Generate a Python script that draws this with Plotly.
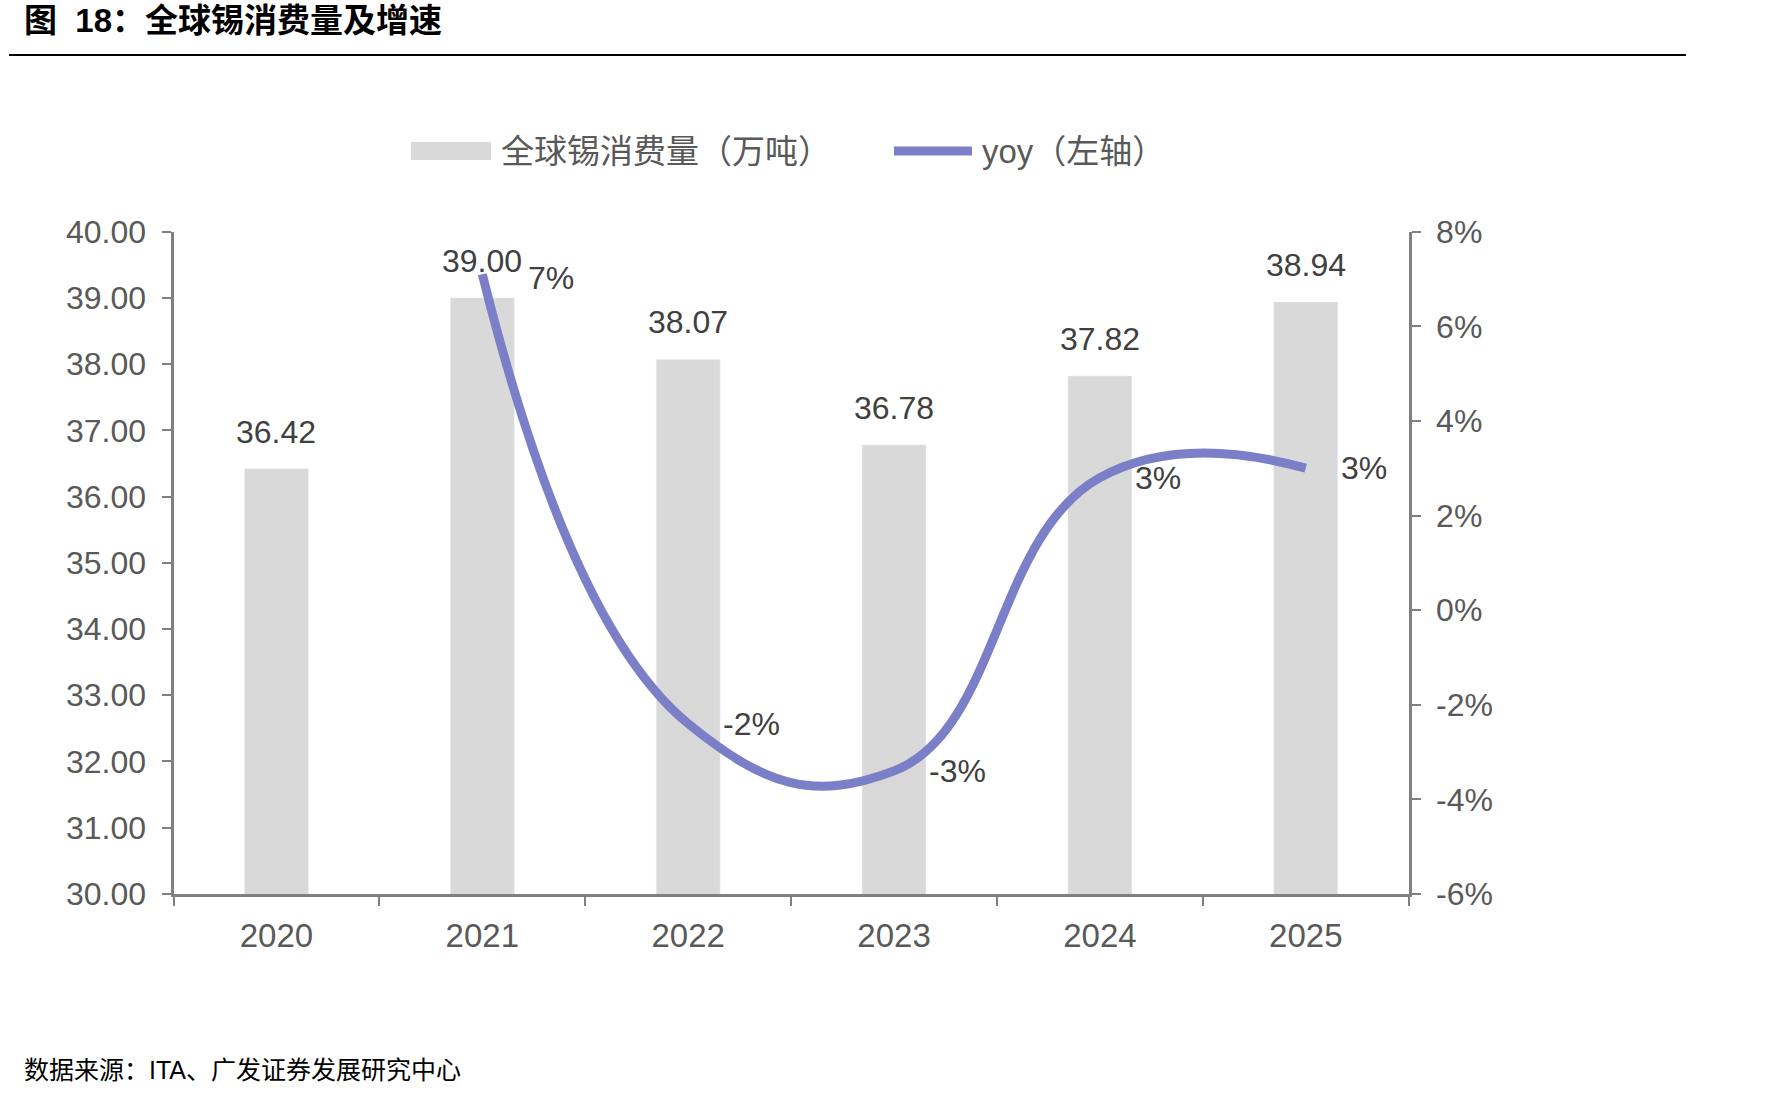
import plotly.graph_objects as go

# ---- data ----
years = ["2020", "2021", "2022", "2023", "2024", "2025"]
consumption = [36.42, 39.00, 38.07, 36.78, 37.82, 38.94]   # 万吨
yoy_years = ["2021", "2022", "2023", "2024", "2025"]
yoy = [0.071, -0.024, -0.034, 0.028, 0.030]
left_ticks = [30, 31, 32, 33, 34, 35, 36, 37, 38, 39, 40]
right_ticks = [-0.06, -0.04, -0.02, 0.0, 0.02, 0.04, 0.06, 0.08]

title_text = "<b>图  18：全球锡消费量及增速</b>"
bar_name = "全球锡消费量（万吨）"
line_name = "yoy（左轴）"
source_text = "数据来源：ITA、广发证券发展研究中心"

W, H = 1790, 1099
FONT = "Liberation Sans, Arial, Noto Sans CJK SC, sans-serif"
BAR_COLOR = "#D9D9D9"
LINE_COLOR = "#7B7FC8"
AXIS_COLOR = "#808080"
TICK_COLOR = "#595959"
LABEL_COLOR = "#404040"

def px(x):
    return x / W

def py(y):
    return 1 - y / H

x_dom = [px(173.5), px(1408.7)]
y_dom = [py(893.9), py(231.7)]

fig = go.Figure()
fig.add_trace(go.Bar(
    x=years, y=consumption, name=bar_name, marker_color=BAR_COLOR,
    width=0.31, showlegend=False, hoverinfo="skip",
))
fig.add_trace(go.Scatter(
    x=yoy_years, y=yoy, name=line_name, yaxis="y2", mode="lines",
    line=dict(color=LINE_COLOR, width=9, shape="spline", smoothing=1.3),
    showlegend=False,
))

annotations = []
# bar value labels
for i, v in enumerate(consumption):
    annotations.append(dict(
        x=i, y=v, xref="x", yref="y", text=f"{v:.2f}", showarrow=False,
        xanchor="center", yanchor="bottom", yshift=17,
        font=dict(size=32, color=LABEL_COLOR, family=FONT),
    ))
# yoy labels
for k, (xv, v) in enumerate(zip(yoy_years, yoy)):
    i = years.index(xv)
    annotations.append(dict(
        x=i, y=v, xref="x", yref="y2", text=f"{v:.0%}", showarrow=False,
        xanchor="left", yanchor="middle", xshift=44 if k == 0 else 33,
        yshift=-4 if k == 0 else 0,
        font=dict(size=32, color=LABEL_COLOR, family=FONT),
    ))
# title
annotations.append(dict(
    x=px(22), y=py(20.5), xref="paper", yref="paper", text=title_text,
    showarrow=False, xanchor="left", yanchor="middle",
    font=dict(size=33, color="#000000", family=FONT),
))
# source
annotations.append(dict(
    x=px(22), y=py(1070), xref="paper", yref="paper", text=source_text,
    showarrow=False, xanchor="left", yanchor="middle",
    font=dict(size=25, color="#000000", family=FONT),
))
# legend texts
annotations.append(dict(
    x=px(499), y=py(151), xref="paper", yref="paper", text=bar_name,
    showarrow=False, xanchor="left", yanchor="middle",
    font=dict(size=33, color=TICK_COLOR, family=FONT),
))
annotations.append(dict(
    x=px(980), y=py(151), xref="paper", yref="paper", text=line_name,
    showarrow=False, xanchor="left", yanchor="middle",
    font=dict(size=33, color=TICK_COLOR, family=FONT),
))

shapes = [
    # title underline
    dict(type="line", xref="paper", yref="paper", x0=px(9), x1=px(1686),
         y0=py(55), y1=py(55), line=dict(color="#000000", width=2)),
    # legend bar swatch
    dict(type="rect", xref="paper", yref="paper", x0=px(411), x1=px(491),
         y0=py(160), y1=py(142), fillcolor=BAR_COLOR, line=dict(width=0)),
    # legend line swatch
    dict(type="line", xref="paper", yref="paper", x0=px(894), x1=px(972),
         y0=py(151), y1=py(151), line=dict(color=LINE_COLOR, width=9)),
]

axis_common = dict(
    showline=True, linecolor=AXIS_COLOR, linewidth=3,
    ticks="outside", ticklen=9, tickwidth=2, tickcolor=AXIS_COLOR,
    showgrid=False, zeroline=False, automargin=False,
    tickfont=dict(size=32, color=TICK_COLOR, family=FONT), ticklabelstandoff=9,
)

fig.update_layout(
    width=W, height=H,
    margin=dict(l=0, r=0, t=0, b=0, pad=0, autoexpand=False),
    paper_bgcolor="white", plot_bgcolor="white",
    font=dict(family=FONT, size=30, color=TICK_COLOR),
    showlegend=False,
    annotations=annotations,
    shapes=shapes,
    xaxis=dict(
        domain=x_dom, type="category", range=[-0.5, 5.5],
        tickson="boundaries",
        **{**axis_common, "tickfont": dict(size=33, color=TICK_COLOR, family=FONT),
           "ticklabelstandoff": 10},
    ),
    yaxis=dict(
        domain=y_dom, range=[30, 40],
        tickvals=left_ticks, ticktext=[f"{t:.2f}" for t in left_ticks],
        **axis_common,
    ),
    yaxis2=dict(
        domain=y_dom, range=[-0.06, 0.08],
        tickvals=right_ticks, ticktext=[f"{t:.0%}" for t in right_ticks],
        overlaying="y", side="right", anchor="x",
        **axis_common,
    ),
)

fig.write_html("out.html")
